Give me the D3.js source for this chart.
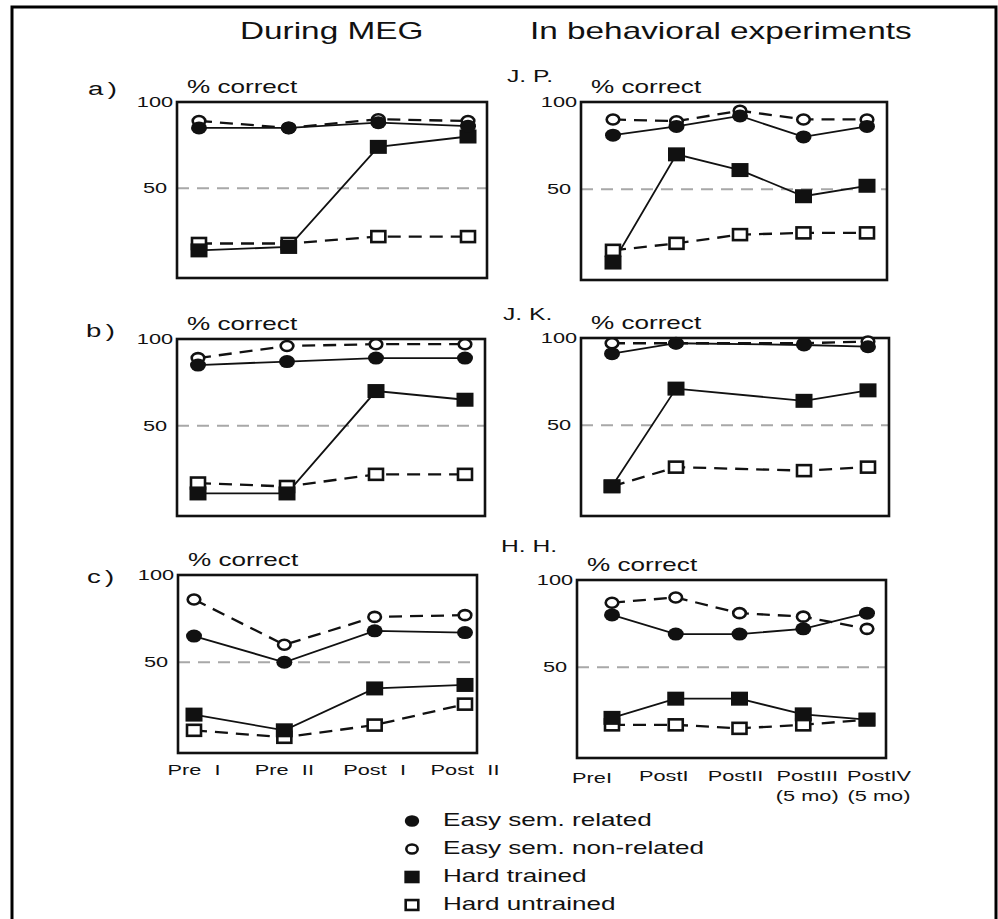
<!DOCTYPE html>
<html>
<head>
<meta charset="utf-8">
<script src="https://cdn.jsdelivr.net/npm/d3@7"></script>
<style>
  body { margin: 0; background: #fff; }
  svg { display: block; }
  text { font-family: "Liberation Sans", Arial, Helvetica, sans-serif; fill: #111; }
</style>
</head>
<body>
<script>
const width = 998, height = 919;
const SX = 1.45; // the original figure is stretched sideways

// x categories
const megSessions = ['Pre I', 'Pre II', 'Post I', 'Post II'];
const behSessions = ['PreI', 'PostI', 'PostII', 'PostIII', 'PostIV'];
const behNotes = ['', '', '', '(5 mo)', '(5 mo)'];
const yTicks = [50, 100];
const seriesNames = ['Easy sem. related', 'Easy sem. non-related', 'Hard trained', 'Hard untrained'];

// % correct, During MEG
const aEasyRel = [85, 85, 88, 86];
const aEasyNon = [89, 85, 90, 89];
const aHardTr  = [14, 16, 74, 80];
const aHardUn  = [18, 18, 22, 22];

const bEasyRel = [85, 87, 89, 89];
const bEasyNon = [89, 96, 97, 97];
const bHardTr  = [11, 11, 70, 65];
const bHardUn  = [17, 15, 22, 22];

const cEasyRel = [65, 50, 68, 67];
const cEasyNon = [86, 60, 76, 77];
const cHardTr  = [20, 11, 35, 37];
const cHardUn  = [11, 7, 14, 26];

// % correct, behavioral experiments (J.K. has no PostII session)
const jpEasyRel = [81, 86, 92, 80, 86];
const jpEasyNon = [90, 89, 95, 90, 90];
const jpHardTr  = [8, 70, 61, 46, 52];
const jpHardUn  = [15, 19, 24, 25, 25];

const jkEasyRel = [91, 97, null, 96, 95];
const jkEasyNon = [97, 97, null, 97, 98];
const jkHardTr  = [15, 71, null, 64, 70];
const jkHardUn  = [15, 26, null, 24, 26];

const hhEasyRel = [80, 69, 69, 72, 81];
const hhEasyNon = [87, 90, 81, 79, 72];
const hhHardTr  = [21, 32, 32, 23, 20];
const hhHardUn  = [17, 17, 15, 17, 20];

const panels = [
  { tag: 'a)', tagX: 88, tagY: 95, x0: 177, x1: 487, y0: 102, y1: 278, padL: 22, padR: 19,
    cats: megSessions, data: [aEasyRel, aEasyNon, aHardTr, aHardUn] },
  { tag: 'b)', tagX: 86, tagY: 337, x0: 177, x1: 485, y0: 339, y1: 516, padL: 21, padR: 20,
    cats: megSessions, data: [bEasyRel, bEasyNon, bHardTr, bHardUn] },
  { tag: 'c)', tagX: 87, tagY: 583, x0: 178, x1: 477, y0: 575, y1: 753, padL: 16, padR: 12,
    cats: megSessions, data: [cEasyRel, cEasyNon, cHardTr, cHardUn], xLabels: true },
  { tag: 'J. P.', tagX: 507, tagY: 82, x0: 581, x1: 887, y0: 102, y1: 280, padL: 32, padR: 20,
    cats: behSessions, data: [jpEasyRel, jpEasyNon, jpHardTr, jpHardUn] },
  { tag: 'J. K.', tagX: 503, tagY: 320, x0: 581, x1: 889, y0: 338, y1: 516, padL: 31, padR: 21,
    cats: behSessions, data: [jkEasyRel, jkEasyNon, jkHardTr, jkHardUn] },
  { tag: 'H. H.', tagX: 501, tagY: 552, x0: 577, x1: 886, y0: 580, y1: 758, padL: 35, padR: 19,
    cats: behSessions, data: [hhEasyRel, hhEasyNon, hhHardTr, hhHardUn], xLabels: true, notes: behNotes }
];

const svg = d3.select('body').append('svg')
  .attr('width', width)
  .attr('height', height);

function label(sel, x, y, str, size, anchor) {
  return sel.append('text')
    .attr('transform', `translate(${x},${y}) scale(${SX},1)`)
    .attr('text-anchor', anchor || 'start')
    .attr('font-size', size)
    .text(str);
}

// marker for series i (0 filled circle, 1 open circle, 2 filled square, 3 open square)
function marker(sel, i, cx, cy, k) {
  k = k || 1;
  if (i === 0) {
    sel.append('ellipse').attr('cx', cx).attr('cy', cy).attr('rx', 8 * k).attr('ry', 6.5 * k).attr('fill', '#111');
  } else if (i === 1) {
    sel.append('ellipse').attr('cx', cx).attr('cy', cy).attr('rx', 6.3 * k).attr('ry', 5 * k)
      .attr('fill', '#fff').attr('stroke', '#111').attr('stroke-width', 2.6);
  } else if (i === 2) {
    sel.append('rect').attr('x', cx - 8.5 * k).attr('y', cy - 7 * k).attr('width', 17 * k).attr('height', 14 * k).attr('fill', '#111');
  } else {
    sel.append('rect').attr('x', cx - 7 * k).attr('y', cy - 5.5 * k).attr('width', 14 * k).attr('height', 11 * k)
      .attr('fill', '#fff').attr('stroke', '#111').attr('stroke-width', 2.6);
  }
}

// outer frame, cut at right and bottom like the scan
svg.append('path')
  .attr('d', `M12,${height + 5}V7H996V${height + 5}`)
  .attr('fill', 'none')
  .attr('stroke', '#000')
  .attr('stroke-width', 3);

label(svg, 240, 39, 'During MEG', 23);
label(svg, 530, 39, 'In behavioral experiments', 23);

panels.forEach(p => {
  const g = svg.append('g');
  const x = d3.scalePoint().domain(p.cats).range([p.x0 + p.padL, p.x1 - p.padR]);
  const y = d3.scaleLinear().domain([-2, 100]).range([p.y1, p.y0]);

  g.append('line')
    .attr('x1', p.x0).attr('x2', p.x1)
    .attr('y1', y(50)).attr('y2', y(50))
    .attr('stroke', '#a8a8a8')
    .attr('stroke-width', 2)
    .attr('stroke-dasharray', '12,8');

  g.append('rect')
    .attr('x', p.x0).attr('y', p.y0)
    .attr('width', p.x1 - p.x0).attr('height', p.y1 - p.y0)
    .attr('fill', 'none')
    .attr('stroke', '#111')
    .attr('stroke-width', 2.6);

  yTicks.forEach(v => label(g, p.x0 - 22, y(v) + 5, v, 15, 'middle'));
  label(g, p.x0 + 10, p.y0 - 9, '% correct', 18);
  label(g, p.tagX, p.tagY, p.tag, p.tag.length > 2 ? 17 : 19).attr('letter-spacing', p.tag.length > 2 ? 0 : 3);

  const series = p.data.map((vals, i) => ({
    i,
    pts: p.cats.map((c, j) => ({ c, v: vals[j] })).filter(d => d.v != null)
  }));

  const line = d3.line().x(d => x(d.c)).y(d => y(d.v));

  g.append('g').selectAll('path')
    .data(series)
    .join('path')
    .attr('d', s => line(s.pts))
    .attr('fill', 'none')
    .attr('stroke', '#111')
    .attr('stroke-width', s => s.i % 2 ? 2.3 : 1.8)
    .attr('stroke-dasharray', s => s.i % 2 ? '13,8' : null);

  const marks = g.append('g');
  [3, 2, 1, 0].forEach(i => {
    series[i].pts.forEach(d => marker(marks, i, x(d.c), y(d.v)));
  });

  if (p.xLabels) {
    if (p.notes) {
      const xl = d3.scalePoint().domain(p.cats).range([p.x0 + 15, p.x1 - 7]);
      p.cats.forEach((c, j) => {
        label(g, xl(c), p.y1 + 23 + (j === 0 ? 2 : 0), c, 15, 'middle');
        if (p.notes[j]) label(g, xl(c), p.y1 + 43, p.notes[j], 15, 'middle');
      });
    } else {
      p.cats.forEach(c => label(g, x(c), p.y1 + 22, c, 15, 'middle').attr('word-spacing', 5));
    }
  }
});

// legend
const legend = svg.append('g');
seriesNames.forEach((name, i) => {
  const by = 826 + i * 28;
  marker(legend, i, 412, by - 5, 0.9);
  label(legend, 443, by, name, 18);
});
</script>
</body>
</html>
